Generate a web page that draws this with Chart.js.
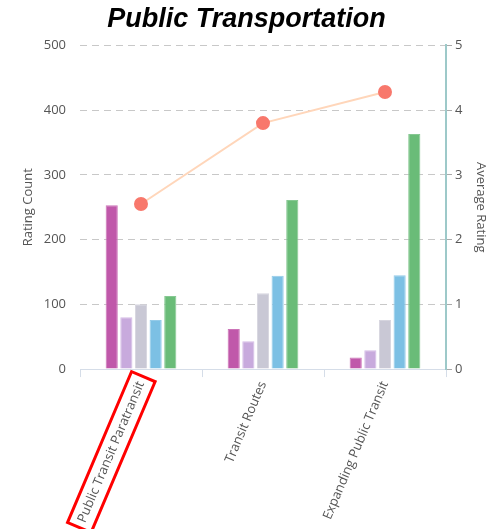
<!DOCTYPE html>
<html>
<head>
<meta charset="utf-8">
<script src="https://cdn.jsdelivr.net/npm/chart.js@4/dist/chart.umd.min.js"></script>
<style>
html,body{margin:0;padding:0;background:#fff;}
#wrap{width:493px;height:529px;position:relative;}
</style>
</head>
<body>
<div id="wrap"><canvas id="c" width="493" height="529"></canvas></div>
<script>
const categories = ["Public Transit Paratransit", "Transit Routes", "Expanding Public Transit"];
const rating1 = [253, 62, 18];
const rating2 = [80, 43, 29];
const rating3 = [100, 117, 76];
const rating4 = [76, 144, 145];
const rating5 = [113, 261, 363];
const averageRating = [2.55, 3.8, 4.28];
const countTicks = [0, 100, 200, 300, 400, 500];
const avgTicks = [0, 1, 2, 3, 4, 5];
const highlightIndex = 0;

const barColors = ["#c058aa", "#c8aadd", "#c9c8d5", "#7cc0e4", "#6abc78"];
const barBorders = ["#cc74b8", "#d4bce6", "#d6d5df", "#94cbe9", "#86c892"];
const seriesValues = [rating1, rating2, rating3, rating4, rating5];

const highlightPlugin = {
  id: 'highlight',
  afterDraw(chart) {
    const scale = chart.scales.x;
    const ctx = chart.ctx;
    let items = null;
    try { items = scale.getLabelItems ? scale.getLabelItems() : scale._labelItems; } catch(e) { items = scale._labelItems; }
    if (!items || !items[highlightIndex]) return;
    const it = items[highlightIndex];
    const [tx, ty] = it.options.translation;
    const rot = it.options.rotation;
    ctx.save();
    ctx.font = it.font.string;
    const w = ctx.measureText(it.label).width;
    ctx.translate(tx, ty);
    ctx.rotate(rot);
    ctx.strokeStyle = '#ff0000';
    ctx.lineWidth = 3;
    const padX = 6, h = it.font.lineHeight;
    ctx.strokeRect(-w - padX, -h / 2 - 5 + (it.textOffset || 0), w + padX * 2, h + 10);
    ctx.restore();
  }
};

const datasets = seriesValues.map((vals, i) => ({
  type: 'bar',
  label: String(i + 1),
  data: vals,
  backgroundColor: barColors[i],
  borderColor: barBorders[i],
  borderWidth: 1,
  yAxisID: 'y',
  categoryPercentage: 0.6,
  barPercentage: 0.83,
  order: 2
}));
datasets.unshift({
  type: 'line',
  label: 'Average Rating',
  data: averageRating,
  yAxisID: 'y1',
  borderColor: '#ffd6ba',
  borderWidth: 2,
  pointBackgroundColor: '#f8786c',
  pointBorderColor: '#f8786c',
  pointRadius: 6,
  tension: 0,
  order: 1
});

new Chart(document.getElementById('c'), {
  data: { labels: categories, datasets },
  plugins: [highlightPlugin],
  options: {
    responsive: false,
    animation: false,
    layout: { padding: { left: 4, right: 4, top: 0, bottom: 2 } },
    plugins: {
      legend: { display: false },
      tooltip: { enabled: false },
      title: {
        display: true,
        text: 'Public Transportation',
        color: '#000',
        font: { family: 'Liberation Sans, Arial, sans-serif', size: 27, style: 'italic', weight: 'bold' },
        padding: { top: 3, bottom: 10 }
      }
    },
    scales: {
      x: {
        offset: true,
        grid: { display: true, offset: true, drawOnChartArea: false, color: '#d5dde8', tickLength: 8, lineWidth: 1 },
        border: { display: true, color: '#d5dde8' },
        ticks: {
          color: '#555',
          font: { family: 'Open Sans, sans-serif', size: 13 },
          minRotation: 67, maxRotation: 67,
          padding: 2,
          autoSkip: false
        }
      },
      y: {
        position: 'left',
        min: 0, max: 500,
        afterBuildTicks: (s) => { s.ticks = countTicks.map(v => ({ value: v })); },
        afterFit: (s) => { s.width = 76; },
        grid: { color: '#c8c8c8', drawTicks: false, lineWidth: 1 },
        border: { display: false, dash: [7, 5] },
        ticks: { color: '#555', font: { family: 'Open Sans, sans-serif', size: 13 }, padding: 14 },
        title: { display: true, text: 'Rating Count', color: '#555', font: { family: 'Open Sans, sans-serif', size: 13 }, padding: { top: 16, bottom: 4 } }
      },
      y1: {
        position: 'right',
        min: 0, max: 5,
        afterBuildTicks: (s) => { s.ticks = avgTicks.map(v => ({ value: v })); },
        afterFit: (s) => { s.width = 43; },
        grid: { drawOnChartArea: false, color: '#aaaaaa', tickLength: 6 },
        border: { display: true, color: '#9dc9c9', width: 2 },
        ticks: { color: '#555', font: { family: 'Open Sans, sans-serif', size: 13 }, padding: 3 },
        title: { display: true, text: 'Average Rating', color: '#555', font: { family: 'Open Sans, sans-serif', size: 13 }, padding: { top: 0, bottom: 0 } }
      }
    }
  }
});
</script>
</body>
</html>
